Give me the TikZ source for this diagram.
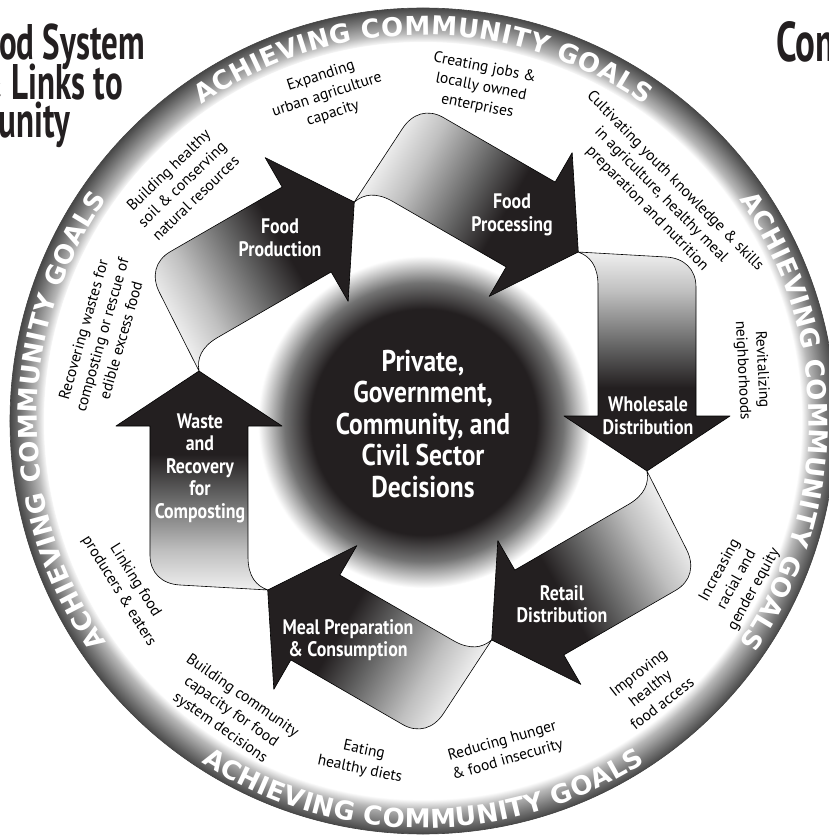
\documentclass[tikz,border=0pt]{standalone}
\usepackage{fontspec}
\setmainfont{PT Sans}
\newfontfamily\condfont[FakeStretch=0.85]{PT Sans}
\newfontfamily\titlefont[FakeStretch=0.66]{PT Sans}
\newfontfamily\ringfont{DejaVu Sans}
\usetikzlibrary{decorations.text}
\definecolor{ink}{RGB}{35,31,32}
\pgfdeclareradialshading{ringshade}{\pgfpoint{0bp}{0bp}}{color(0bp)=(white); color(22.9bp)=(white); color(23.5bp)=(black!28); color(24.3bp)=(black!52); color(25bp)=(black!72); color(50bp)=(black!72)}
\pgfdeclareradialshading{coreshade}{\pgfpoint{0bp}{0bp}}{color(0bp)=(ink); color(17bp)=(ink); color(21bp)=(black!55); color(25bp)=(white); color(50bp)=(white)}
\pgfdeclareverticalshading{arrowshade}{100bp}{color(0bp)=(ink); color(44bp)=(ink); color(53bp)=(black!62); color(66bp)=(black!25); color(75bp)=(black!6); color(100bp)=(black!6)}
\begin{document}
\begin{tikzpicture}[x=1pt,y=1pt]
	\tikzset{
		lbl/.style={text=white, font=\condfont\bfseries\fontsize{21}{22.5}\selectfont, align=center, inner sep=0pt},
		core/.style={text=white, font=\condfont\bfseries\fontsize{30}{31.5}\selectfont, align=center, inner sep=0pt},
		goal/.style={font=\fontsize{15.5}{19.5}\selectfont, align=center, inner sep=0pt},
		ttl/.style={anchor=base east, font=\titlefont\bfseries\fontsize{50}{50}\selectfont, text=ink, inner sep=0pt},
		ringtext/.style={decorate, decoration={text along path, text align=fit to path, text color=white,
			text={|\ringfont\bfseries\fontsize{26}{26}\selectfont|ACHIEVING COMMUNITY GOALS}}}
	}
	\useasboundingbox (-423,-415) rectangle (406,421);
	\clip (-423,-415) rectangle (406,421);
	\fill[white] (-423,-415) rectangle (406,421);
	
	%Ring
	\shade[shading=ringshade, even odd rule] (0,0) circle[radius=413] (0,0) circle[radius=379];
	\draw[black!75, line width=0.6] (0,0) circle[radius=413];
	\path[ringtext] (125:386) arc[start angle=125, end angle=55, radius=386];
	\path[ringtext] (35:386) arc[start angle=35, end angle=-35, radius=386];
	\path[ringtext] (215:386) arc[start angle=215, end angle=145, radius=386];
	\path[ringtext] (237:407) arc[start angle=237, end angle=303, radius=407];
	
	%Core
	\shade[shading=coreshade] (1,-1) circle[radius=166];
	
	%Arrows
	\foreach \goc in {0,60,...,300}{
		\begin{scope}[transform canvas={rotate=\goc}]
			\shade[shading=arrowshade, draw=black, line width=0.6, line join=round] (155,169) -- (243,164) .. controls (261,163) and (273,152) .. (273,134) -- (273,5) -- (307,5) -- (224,-50) -- (141,5) -- (175,5) -- (175,136) .. controls (175,155) and (167,165) .. (155,169) -- cycle;
		\end{scope}
	}
	
	%Labels
	\foreach \x/\y/\txt/\nm in {
		-143/183/{Food\\Production}/fprod,
		89/206/{Food\\Processing}/fproc,
		225/5/{Wholesale\\Distribution}/whole,
		139/-183/{Retail\\Distribution}/retail,
		-75/-219/{Meal Preparation\\\& Consumption}/meal,
		-223/-47/{Waste\\and\\Recovery\\for\\Composting}/waste
	}{
		\node[lbl] (\nm) at (\x,\y) {\txt};
	}
	\node[core] (decide) at (0,-3) {Private,\\Government,\\Community, and\\Civil Sector\\Decisions};
	
	%Goals
	\foreach \x/\y/\goc/\txt/\i in {
		-241/237/44/{Building healthy\\soil \& conserving\\natural resources}/1,
		-96/326/18/{Expanding\\urban agriculture\\capacity}/2,
		58/334/-11/{Creating jobs \&\\locally owned\\enterprises}/3,
		238/226/-45.5/{Cultivating youth knowledge \& skills\\in agriculture, healthy meal\\preparation and nutrition}/4,
		329/51/-87/{Revitalizing\\neighborhoods}/5,
		314/-159/61/{Increasing\\racial and\\gender equity}/6,
		227/-267/38/{Improving\\healthy\\food access}/7,
		82/-330/16/{Reducing hunger\\\& food insecurity}/8,
		-61/-339/-12/{Eating\\healthy diets}/9,
		-192/-291/-35/{Building community\\capacity for food\\system decisions}/10,
		-296/-165/-58/{Linking food\\producers \& eaters}/11,
		-321/86/74/{Recovering wastes for\\composting or rescue of\\edible excess food}/12
	}{
		\node[goal, rotate=\goc] (g\i) at (\x,\y) {\txt};
	}
	
	%Titles
	\node[ttl] (ttla) at (-278,361) {od System};
	\node[ttl] (ttlb) at (-300,321) {\& Links to};
	\node[ttl] (ttlc) at (-353,283) {unity};
	\node[ttl, anchor=base west, font=\titlefont\bfseries\fontsize{56}{56}\selectfont] (ttld) at (353,359) {Com};
\end{tikzpicture}
\end{document}
